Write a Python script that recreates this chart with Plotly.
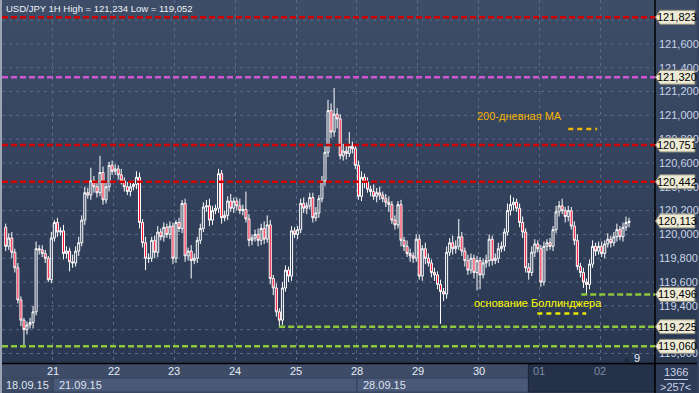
import plotly.graph_objects as go

title_text = "USD/JPY 1H High = 121,234 Low = 119,052"
open0 = 120.06
# hourly closes per trading day (≈20 bars/day as drawn)
close_18 = [119.90, 119.97, 119.85, 119.72, 119.45, 119.28, 119.20, 119.24, 119.26, 119.35, 119.88, 119.87, 119.84, 119.80, 119.62, 119.97]
close_21 = [120.10, 120.02, 120.03, 119.84, 119.86, 119.77, 119.76, 119.86, 119.93, 120.12, 120.35, 120.33, 120.45, 120.40, 120.35, 120.52, 120.29, 120.40, 120.58, 120.53]
close_22 = [120.55, 120.50, 120.45, 120.40, 120.36, 120.40, 120.42, 120.48, 120.10, 119.93, 119.80, 119.80, 119.95, 119.85, 120.02, 119.98, 120.06, 120.00, 120.07, 119.80]
close_23 = [120.10, 120.05, 120.26, 119.82, 119.86, 119.78, 119.80, 119.95, 120.05, 120.23, 120.24, 120.12, 120.20, 120.22, 120.51, 120.14, 120.16, 120.28, 120.22, 120.28]
close_24 = [120.24, 120.20, 120.21, 120.13, 119.95, 119.97, 120.00, 119.95, 120.05, 119.96, 120.08, 119.63, 119.55, 119.35, 119.28, 119.55, 119.70, 119.65, 120.03, 120.00]
close_25 = [120.04, 120.26, 120.22, 120.24, 120.31, 120.14, 120.18, 120.30, 120.45, 120.69, 121.04, 120.86, 121.01, 120.97, 120.66, 120.70, 120.68, 120.74, 120.72, 120.58]
close_28 = [120.32, 120.48, 120.44, 120.38, 120.36, 120.32, 120.35, 120.33, 120.30, 120.27, 120.25, 120.12, 120.08, 120.25, 119.95, 119.90, 119.84, 119.82, 119.80, 119.96]
close_29 = [119.65, 119.88, 119.80, 119.76, 119.68, 119.66, 119.58, 119.52, 119.50, 119.85, 119.93, 119.88, 119.90, 119.98, 119.86, 119.78, 119.70, 119.80, 119.68, 119.78]
close_30 = [119.66, 119.76, 119.78, 119.96, 119.78, 119.80, 119.88, 119.90, 120.02, 120.20, 120.25, 120.27, 120.22, 120.10, 120.02, 119.72, 119.68, 119.85, 119.92, 119.88]
close_01 = [119.60, 119.90, 119.93, 119.90, 120.04, 120.19, 120.24, 120.20, 120.15, 120.20, 120.07, 119.95, 119.73, 119.68, 119.60, 119.58, 119.75, 119.90, 119.86, 119.90]
close_02 = [119.84, 119.92, 119.96, 119.93, 119.98, 120.04, 119.98, 120.06, 120.10, 120.11]

# wick lengths in pips (upper / lower), per bar
wick_up = [3, 4, 5, 3, 4, 3, 2, 3, 4, 5, 6, 3, 4, 3, 2, 5,
           2, 4, 3, 5, 4, 3, 6, 4, 5, 4, 5, 4, 11, 4, 3, 14, 5, 4, 3, 4,
           4, 3, 5, 3, 4, 5, 3, 5, 4, 3, 5, 4, 3, 4, 5, 3, 4, 3, 4, 3,
           2, 4, 3, 4, 3, 5, 4, 3, 4, 4, 5, 6, 4, 3, 4, 3, 4, 4, 6, 3,
           3, 6, 4, 15, 4, 3, 4, 5, 4, 6, 8, 4, 3, 4, 3, 5, 4, 3, 4, 3,
           3, 4, 5, 3, 4, 4, 5, 3, 4, 5, 9, 6, 22, 5, 4, 6, 5, 12, 4, 3,
           4, 5, 3, 4, 3, 6, 4, 5, 3, 4, 5, 3, 4, 3, 4, 3, 5, 4, 3, 4,
           4, 3, 5, 4, 3, 4, 3, 4, 3, 5, 4, 6, 5, 15, 4, 3, 5, 4, 3, 4,
           3, 4, 5, 4, 3, 4, 5, 4, 3, 6, 8, 4, 3, 4, 5, 3, 4, 5, 4, 3,
           3, 4, 3, 4, 3, 5, 4, 6, 3, 4, 3, 4, 5, 3, 4, 3, 4, 5, 3, 4,
           4, 3, 5, 3, 4, 5, 3, 4, 5, 3]
wick_dn = [4, 3, 5, 4, 3, 5, 15, 4, 3, 5, 3, 4, 3, 4, 2, 3,
           3, 4, 3, 5, 4, 8, 4, 3, 4, 3, 4, 3, 4, 5, 4, 3, 4, 3, 4, 3,
           3, 4, 3, 4, 3, 4, 3, 4, 5, 4, 10, 4, 3, 5, 4, 3, 4, 3, 4, 5,
           4, 3, 4, 5, 4, 15, 3, 4, 3, 3, 4, 5, 4, 3, 4, 5, 3, 4, 3, 4,
           4, 3, 4, 3, 5, 4, 3, 5, 4, 4, 3, 5, 6, 4, 6, 4, 3, 5, 4, 3,
           4, 3, 4, 5, 3, 4, 3, 4, 3, 4, 4, 5, 4, 8, 3, 4, 5, 3, 4, 3,
           3, 4, 5, 3, 4, 3, 5, 4, 3, 4, 6, 3, 4, 3, 5, 4, 3, 5, 4, 3,
           3, 4, 5, 3, 4, 5, 4, 27, 6, 4, 3, 5, 4, 3, 4, 5, 4, 3, 5, 15,
           12, 3, 4, 5, 4, 3, 4, 3, 4, 3, 4, 5, 3, 4, 5, 4, 6, 3, 4, 3,
           4, 3, 4, 3, 4, 3, 4, 3, 5, 4, 3, 4, 3, 4, 5, 8, 4, 3, 4, 3,
           3, 4, 3, 4, 3, 4, 3, 4, 3, 4]

day_labels = ["21", "22", "23", "24", "25", "28", "29", "30", "01", "02"]
week_labels = ["18.09.15", "21.09.15", "28.09.15"]
y_ticks = [119.0, 119.4, 119.6, 119.8, 120.0, 120.2, 120.4, 120.6, 120.8, 121.0, 121.2, 121.4, 121.6]
y_grid = [119.0, 119.2, 119.4, 119.6, 119.8, 120.0, 120.2, 120.4, 120.6, 120.8, 121.0, 121.2, 121.4, 121.6, 121.8]
level_red = [121.823, 120.751, 120.442]
level_magenta = [121.320]
level_green = [119.496, 119.225, 119.060]
last_price = 120.113
bar_count_text = "1366"
bar_ratio_text = ">257<"
ma_text = "200-дневная МА"
bb_text = "основание Боллинджера"

closes = close_18 + close_21 + close_22 + close_23 + close_24 + close_25 + close_28 + close_29 + close_30 + close_01 + close_02
opens = [open0] + closes[:-1]
highs = [max(o, c) + u / 100 for o, c, u in zip(opens, closes, wick_up)]
lows = [min(o, c) - d / 100 for o, c, d in zip(opens, closes, wick_dn)]
xs = list(range(len(closes)))

W, H = 699, 393
L, R, T, B = 2, 42, 0, 30
PW, PH = W - L - R, H - T - B
PX_PER_BAR = 3.05
PX_PER_UNIT = 119.1


def xd(px):
    return 15.5 + (px - 53) / PX_PER_BAR


def yd(py):
    return 121.823 - (py - 17.3) / PX_PER_UNIT


def xp(px):
    return (px - L) / PW


def yp(py):
    return (T + PH - py) / PH


def fmt(v):
    return f"{v:.3f}".replace(".", ",")


fig = go.Figure()
fig.add_trace(go.Candlestick(
    x=xs, open=opens, high=highs, low=lows, close=closes,
    increasing=dict(line=dict(color="#ffffff", width=1), fillcolor="rgba(0,0,0,0)"),
    decreasing=dict(line=dict(color="#ffffff", width=1), fillcolor="#ff0a2a"),
    whiskerwidth=0, hoverinfo="skip", showlegend=False,
))

shapes = []
# background gradient (plot + right panel)
n = 40
top_c = (61, 77, 104)
bot_c = (42, 55, 81)
for i in range(n):
    t = i / (n - 1)
    c = tuple(round(top_c[k] + (bot_c[k] - top_c[k]) * t) for k in range(3))
    shapes.append(dict(type="rect", xref="paper", yref="paper", layer="below",
                       x0=xp(0), x1=xp(W), y0=1 - (i + 1) / n - 0.002, y1=1 - i / n,
                       fillcolor="rgb(%d,%d,%d)" % c, line=dict(width=0)))
# bottom band
shapes.append(dict(type="rect", xref="paper", yref="paper", layer="below",
                   x0=xp(0), x1=xp(657), y0=yp(393), y1=yp(363),
                   fillcolor="#3e4c67", line=dict(width=0)))
for x0, x1 in [(53, 358), (358, 530)]:
    shapes.append(dict(type="rect", xref="paper", yref="paper", layer="below",
                       x0=xp(x0), x1=xp(x1), y0=yp(392), y1=yp(378),
                       fillcolor="#4a5978", line=dict(color="#34425c", width=1)))
shapes.append(dict(type="rect", xref="paper", yref="paper", layer="below",
                   x0=xp(2), x1=xp(53), y0=yp(392), y1=yp(378),
                   fillcolor="#3e4c67", line=dict(color="#34425c", width=1)))
shapes.append(dict(type="rect", xref="paper", yref="paper", layer="below",
                   x0=xp(530), x1=xp(657), y0=yp(392), y1=yp(364),
                   fillcolor="#253149", line=dict(color="#1c2538", width=1)))
# right bottom panel
shapes.append(dict(type="rect", xref="paper", yref="paper", layer="below",
                   x0=xp(658), x1=xp(699), y0=yp(393), y1=yp(364),
                   fillcolor="#2e3b56", line=dict(width=0)))
shapes.append(dict(type="line", xref="paper", yref="paper",
                   x0=xp(666), x1=xp(690), y0=yp(379.5), y1=yp(379.5),
                   line=dict(color="#c8d4e8", width=1)))
# grid lines (horizontal, dotted)
for v in y_grid:
    shapes.append(dict(type="line", xref="paper", yref="y", layer="below", x0=0, x1=1, y0=v, y1=v,
                       line=dict(color="#5a6a88", width=1, dash="3px,4px")))
# axis frame lines
shapes.append(dict(type="line", xref="paper", yref="paper",
                   x0=xp(657), x1=xp(657), y0=yp(393), y1=yp(0),
                   line=dict(color="#000000", width=1.5)))
shapes.append(dict(type="line", xref="paper", yref="paper",
                   x0=xp(0), x1=xp(699), y0=yp(363.5), y1=yp(363.5),
                   line=dict(color="#000000", width=1.5)))
shapes.append(dict(type="line", xref="paper", yref="paper",
                   x0=xp(1), x1=xp(1), y0=yp(393), y1=yp(0),
                   line=dict(color="#9aa4b4", width=2)))

# horizontal levels
for v in level_red:
    shapes.append(dict(type="line", xref="paper", yref="y", x0=0, x1=1, y0=v, y1=v,
                       line=dict(color="#d40000", width=2.5, dash="6px,3px")))
for v in level_magenta:
    shapes.append(dict(type="line", xref="paper", yref="y", x0=0, x1=1, y0=v, y1=v,
                       line=dict(color="#d452d4", width=2.5, dash="6px,3px")))
green_start = [583, 280, 2]
for v, s in zip(level_green, green_start):
    shapes.append(dict(type="line", xref="paper", yref="y", x0=xp(s), x1=1, y0=v, y1=v,
                       line=dict(color="#8cc83c", width=2.5, dash="6px,3px")))
# legend dashes
shapes.append(dict(type="line", xref="paper", yref="paper", x0=xp(570), x1=xp(599),
                   y0=yp(129), y1=yp(129), line=dict(color="#f0b400", width=2.5, dash="5px,4px")))
shapes.append(dict(type="line", xref="paper", yref="paper", x0=xp(539), x1=xp(588),
                   y0=yp(313.5), y1=yp(313.5), line=dict(color="#e8e800", width=2.5, dash="5px,4px")))

annotations = []
# price tags
hh = 7 / PX_PER_UNIT
for v in level_red + level_magenta + [last_price] + level_green:
    path = "M %f,%f L %f,%f L %f,%f L %f,%f L %f,%f Z" % (
        xp(657.5), v, xp(662), v + hh, xp(697), v + hh, xp(697), v - hh, xp(662), v - hh)
    shapes.append(dict(type="path", xref="paper", yref="y", path=path,
                       fillcolor="#ece9d4", line=dict(color="#8f8d7c", width=1)))
    annotations.append(dict(x=xp(679.5), y=v, xref="paper", yref="y", text=fmt(v),
                            showarrow=False, xanchor="center", yanchor="middle",
                            font=dict(family="Liberation Sans, Arial", size=11, color="#000000")))

# day labels
for i, lab in enumerate(day_labels):
    dark = i >= 8
    annotations.append(dict(x=15.5 + 20 * i, y=yp(371), xref="x", yref="paper", text=lab,
                            showarrow=False, xanchor="center", yanchor="middle",
                            font=dict(family="Liberation Sans, Arial", size=11,
                                      color="#7e8ba4" if dark else "#e6ecf6")))
# week labels
annotations.append(dict(x=xp(27.5), y=yp(385), xref="paper", yref="paper", text=week_labels[0],
                        showarrow=False, xanchor="center", yanchor="middle",
                        font=dict(family="Liberation Sans, Arial", size=11, color="#dde4ef")))
for px0, lab in [(57, week_labels[1]), (362, week_labels[2])]:
    annotations.append(dict(x=xp(px0), y=yp(385), xref="paper", yref="paper", text=lab,
                            showarrow=False, xanchor="left", yanchor="middle",
                            font=dict(family="Liberation Sans, Arial", size=11, color="#dde4ef")))
annotations.append(dict(x=xp(678), y=yp(372), xref="paper", yref="paper", text=bar_count_text,
                        showarrow=False, xanchor="center", yanchor="middle",
                        font=dict(family="Liberation Sans, Arial", size=11, color="#c8d4e8")))
annotations.append(dict(x=xp(678), y=yp(387), xref="paper", yref="paper", text=bar_ratio_text,
                        showarrow=False, xanchor="center", yanchor="middle",
                        font=dict(family="Liberation Sans, Arial", size=11, color="#c8d4e8")))
annotations.append(dict(x=xp(639), y=yp(358), xref="paper", yref="paper", text="9",
                        showarrow=False, xanchor="center", yanchor="middle",
                        font=dict(family="Liberation Sans, Arial", size=11, color="#e6ecf6")))
annotations.append(dict(x=xp(629), y=yp(359), xref="paper", yref="paper", text="▲",
                        showarrow=False, xanchor="center", yanchor="middle",
                        font=dict(family="DejaVu Sans", size=7, color="#222b3e")))
# title
annotations.append(dict(x=xp(4), y=yp(8), xref="paper", yref="paper", text=title_text,
                        showarrow=False, xanchor="left", yanchor="middle",
                        font=dict(family="Liberation Sans, Arial", size=9.5, color="#eef2f8")))
# indicator notes
annotations.append(dict(x=xp(521), y=yp(116), xref="paper", yref="paper", text=ma_text,
                        showarrow=False, xanchor="center", yanchor="middle",
                        font=dict(family="Liberation Sans, Arial", size=11, color="#f4b400")))
annotations.append(dict(x=xp(540), y=yp(303), xref="paper", yref="paper", text=bb_text,
                        showarrow=False, xanchor="center", yanchor="middle",
                        font=dict(family="Liberation Sans, Arial", size=11, color="#ffff00")))

fig.update_layout(
    width=W, height=H, margin=dict(l=L, r=R, t=T, b=B),
    paper_bgcolor="#34425e", plot_bgcolor="rgba(0,0,0,0)",
    showlegend=False, hovermode=False, boxgap=0.05,
    shapes=shapes, annotations=annotations,
    xaxis=dict(range=[xd(2), xd(657)], rangeslider=dict(visible=False),
               tickvals=[15.5 + 20 * i for i in range(len(day_labels))],
               showticklabels=False, ticks="",
               showgrid=True, gridcolor="#5a6a88", griddash="3px,4px", gridwidth=1,
               zeroline=False, showline=False),
    yaxis=dict(range=[yd(363), yd(0)], side="right",
               tickvals=y_ticks, ticktext=[fmt(v) for v in y_ticks],
               tickfont=dict(family="Liberation Sans, Arial", size=11, color="#c9d5e9"),
               ticks="", ticklabelstandoff=3,
               showgrid=False, zeroline=False, showline=False),
)

fig.write_html("out.html", config={"displayModeBar": False})
